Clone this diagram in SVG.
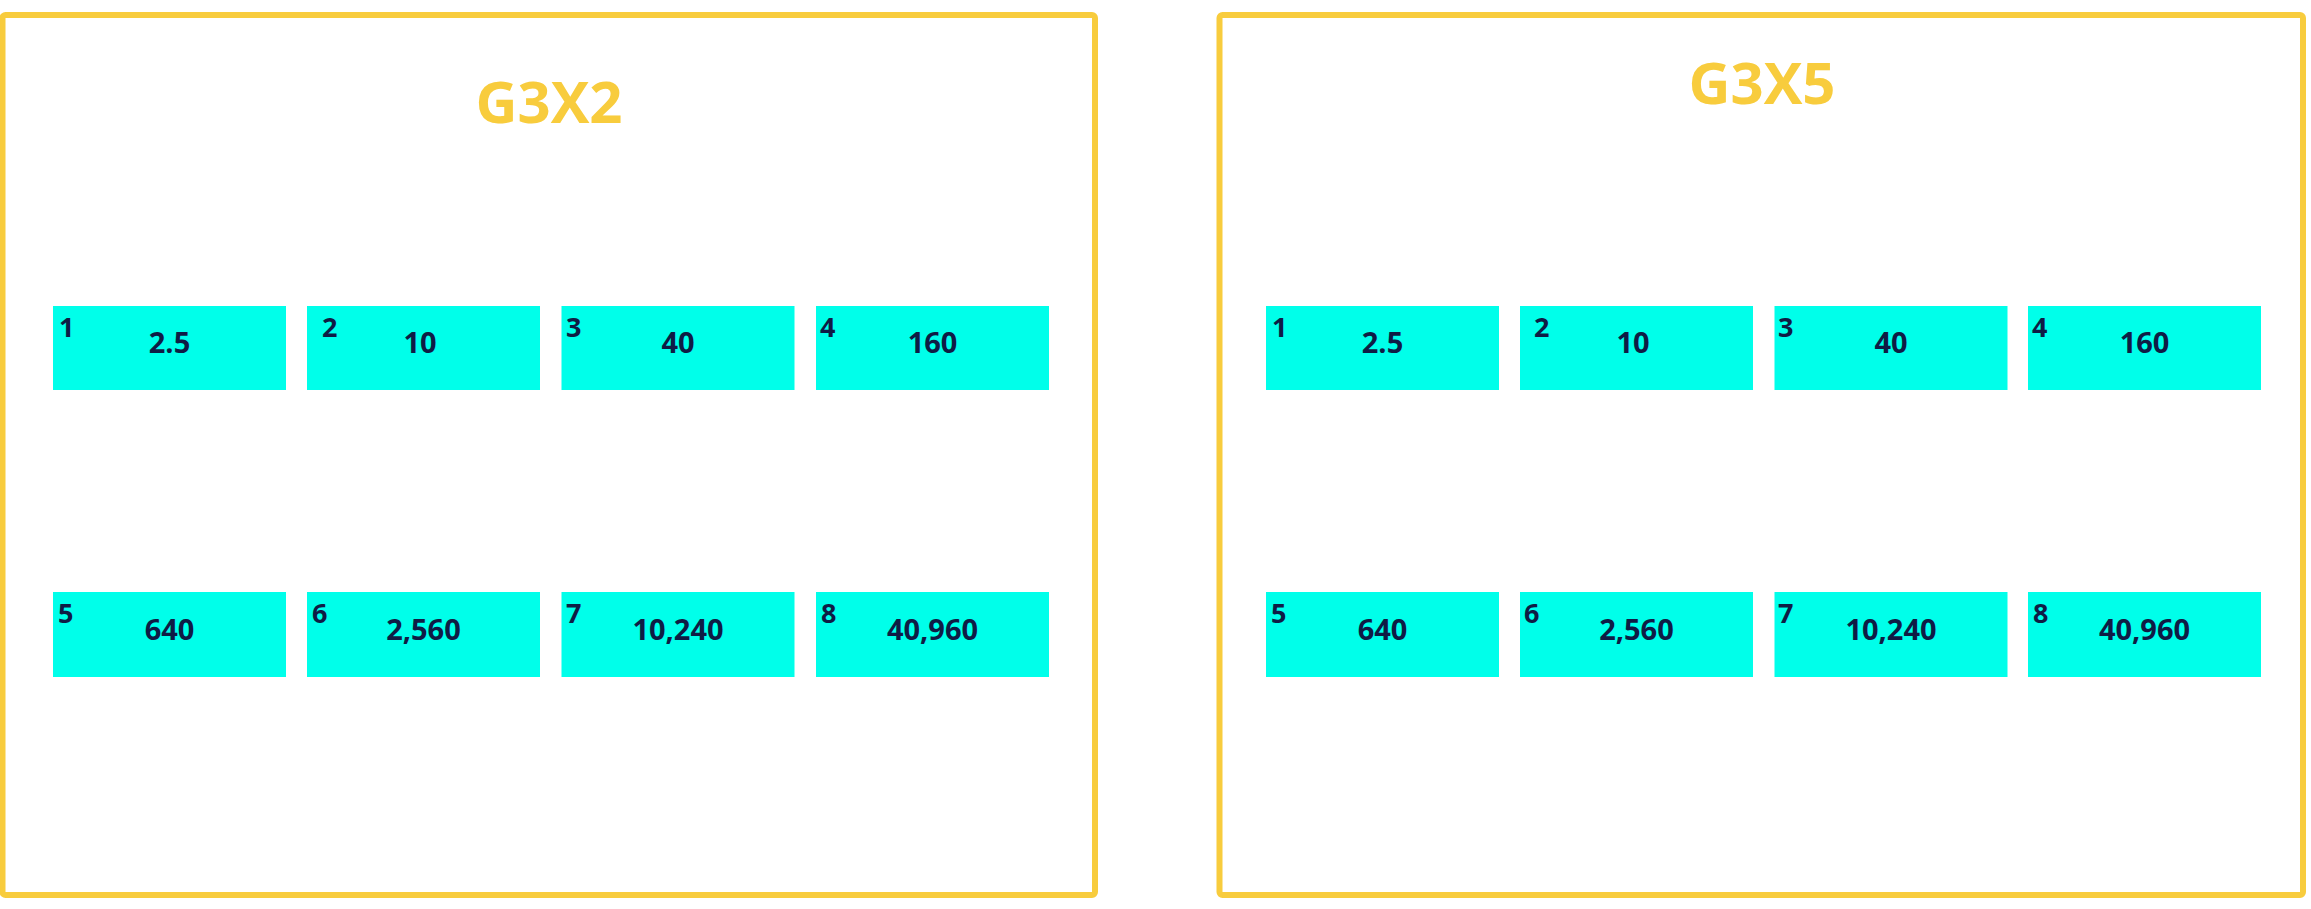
<svg xmlns="http://www.w3.org/2000/svg" width="2311" height="909" viewBox="0 0 2311 909">
  <style>
    .frame { fill: none; stroke: #F8CC3D; stroke-width: 6; }
    .title { font-family: "Open Sans", "Liberation Sans", sans-serif; font-weight: 700; font-size: 58px; fill: #F8CC3D; text-anchor: middle; }
    .box { fill: #00FFEA; }
    .num { font-family: "Open Sans", "Liberation Sans", sans-serif; font-weight: 700; font-size: 27px; fill: #0F1C45; }
    .val { font-family: "Open Sans", "Liberation Sans", sans-serif; font-weight: 700; font-size: 29px; fill: #0F1C45; text-anchor: middle; }
  </style>
  <rect x="0" y="0" width="2311" height="909" fill="#FFFFFF"/>

  <g id="frame-g3x2">
    <rect class="frame" x="2.5" y="15" width="1092.5" height="880" rx="3"/>
    <text class="title" x="549" y="123">G3X2</text>
  </g>
  <g id="frame-g3x5">
    <rect class="frame" x="1219.5" y="15" width="1083.5" height="880" rx="3"/>
    <text class="title" x="1762" y="104">G3X5</text>
  </g>

  <g id="connectors"></g>

  <!-- G3X2 nodes -->
  <g id="g3x2-1"><rect class="box" x="53" y="306" width="233" height="84"/><text class="num" x="59" y="337">1</text><text class="val" x="169.5" y="353">2.5</text></g>
  <g id="g3x2-2"><rect class="box" x="307" y="306" width="233" height="84"/><text class="num" x="322" y="337">2</text><text class="val" x="420" y="353">10</text></g>
  <g id="g3x2-3"><rect class="box" x="561.5" y="306" width="233" height="84"/><text class="num" x="566" y="337">3</text><text class="val" x="678" y="353">40</text></g>
  <g id="g3x2-4"><rect class="box" x="816" y="306" width="233" height="84"/><text class="num" x="820" y="337">4</text><text class="val" x="932.5" y="353">160</text></g>
  <g id="g3x2-5"><rect class="box" x="53" y="592" width="233" height="85"/><text class="num" x="58" y="623">5</text><text class="val" x="169.5" y="640">640</text></g>
  <g id="g3x2-6"><rect class="box" x="307" y="592" width="233" height="85"/><text class="num" x="312" y="623">6</text><text class="val" x="423.5" y="640">2,560</text></g>
  <g id="g3x2-7"><rect class="box" x="561.5" y="592" width="233" height="85"/><text class="num" x="566" y="623">7</text><text class="val" x="678" y="640">10,240</text></g>
  <g id="g3x2-8"><rect class="box" x="816" y="592" width="233" height="85"/><text class="num" x="821" y="623">8</text><text class="val" x="932.5" y="640">40,960</text></g>

  <!-- G3X5 nodes -->
  <g id="g3x5-1"><rect class="box" x="1266" y="306" width="233" height="84"/><text class="num" x="1272" y="337">1</text><text class="val" x="1382.5" y="353">2.5</text></g>
  <g id="g3x5-2"><rect class="box" x="1520" y="306" width="233" height="84"/><text class="num" x="1534" y="337">2</text><text class="val" x="1633" y="353">10</text></g>
  <g id="g3x5-3"><rect class="box" x="1774.5" y="306" width="233" height="84"/><text class="num" x="1778" y="337">3</text><text class="val" x="1891" y="353">40</text></g>
  <g id="g3x5-4"><rect class="box" x="2028" y="306" width="233" height="84"/><text class="num" x="2032" y="337">4</text><text class="val" x="2144.5" y="353">160</text></g>
  <g id="g3x5-5"><rect class="box" x="1266" y="592" width="233" height="85"/><text class="num" x="1271" y="623">5</text><text class="val" x="1382.5" y="640">640</text></g>
  <g id="g3x5-6"><rect class="box" x="1520" y="592" width="233" height="85"/><text class="num" x="1524" y="623">6</text><text class="val" x="1636.5" y="640">2,560</text></g>
  <g id="g3x5-7"><rect class="box" x="1774.5" y="592" width="233" height="85"/><text class="num" x="1778" y="623">7</text><text class="val" x="1891" y="640">10,240</text></g>
  <g id="g3x5-8"><rect class="box" x="2028" y="592" width="233" height="85"/><text class="num" x="2033" y="623">8</text><text class="val" x="2144.5" y="640">40,960</text></g>
</svg>
